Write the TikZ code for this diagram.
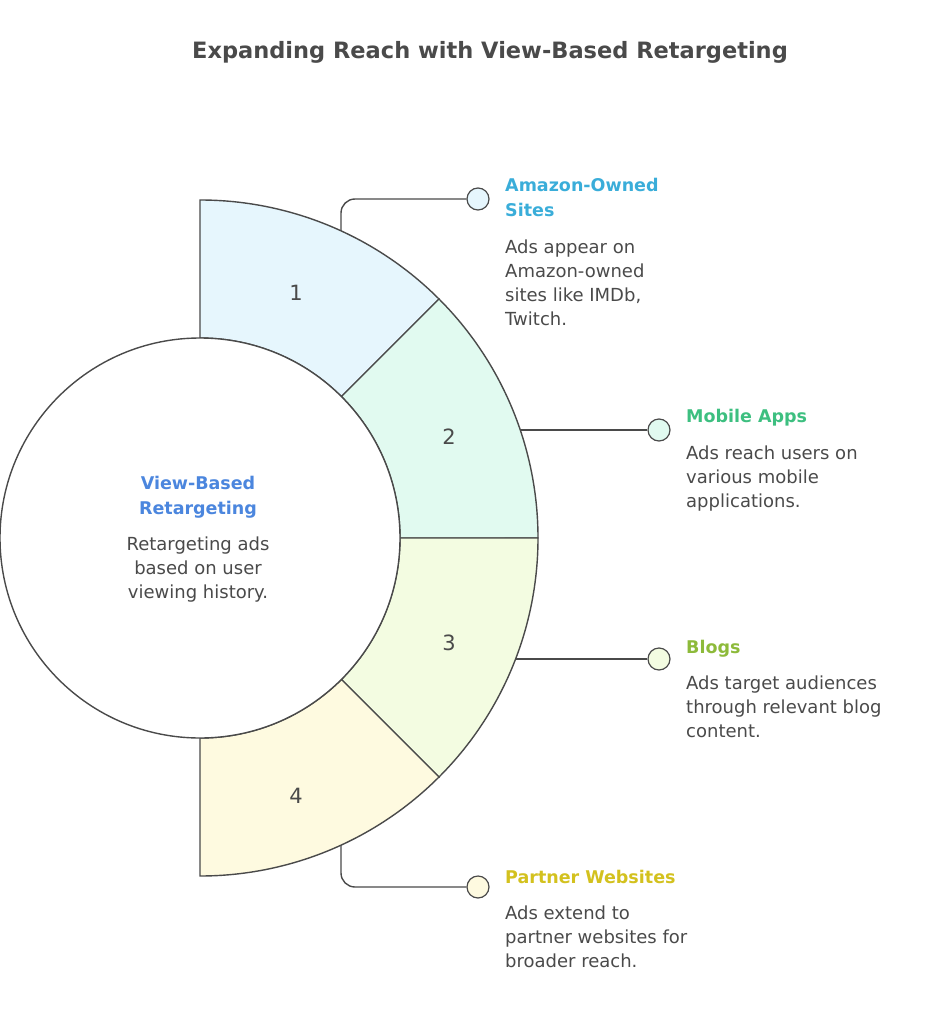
\documentclass[tikz,border=0pt]{standalone}
\usepackage{fontspec}
\setmainfont{DejaVu Sans}
\usetikzlibrary{positioning}
\definecolor{edge}{HTML}{4A4A4A}
\definecolor{segA}{HTML}{E6F6FD}
\definecolor{segB}{HTML}{E1FAF0}
\definecolor{segC}{HTML}{F3FCE1}
\definecolor{segD}{HTML}{FEFAE0}
\definecolor{headA}{HTML}{3AADD9}
\definecolor{headB}{HTML}{3DBF80}
\definecolor{headC}{HTML}{8DBA3A}
\definecolor{headD}{HTML}{D3C11E}
\definecolor{headM}{HTML}{4B86DE}
\tikzset{
  seg/.style={draw=edge, line width=1.4pt},
  dot/.style={circle, draw=edge, line width=1.2pt, minimum size=22pt, inner sep=0pt},
  link/.style={draw=edge, line width=1.4pt, rounded corners=14pt},
  head/.style={anchor=north west, inner sep=0pt, align=left, font=\fontsize{17.5}{25}\selectfont\bfseries},
  body/.style={anchor=north west, inner sep=0pt, align=left, text=edge, font=\fontsize{18}{24}\selectfont},
  num/.style={text=edge, font=\fontsize{21}{22}\selectfont}
}
\begin{document}
\begin{tikzpicture}[x=1pt, y=-1pt]
        \useasboundingbox (0,0) rectangle (938,1024);
        \node[text=edge, font=\fontsize{22.5}{24}\selectfont\bfseries] (title) at (490,52) {Expanding Reach with View-Based Retargeting};
        % ring segments
        \draw[seg, fill=segA] (200,200) arc[start angle=-90, end angle=-45, radius=338]
            -- (341.4,396.6) arc[start angle=-45, end angle=-90, radius=200] -- cycle;
        \draw[seg, fill=segB] (439,299) arc[start angle=-45, end angle=0, radius=338]
            -- (400,538) arc[start angle=0, end angle=-45, radius=200] -- cycle;
        \draw[seg, fill=segC] (538,538) arc[start angle=0, end angle=45, radius=338]
            -- (341.4,679.4) arc[start angle=45, end angle=0, radius=200] -- cycle;
        \draw[seg, fill=segD] (439,777) arc[start angle=45, end angle=90, radius=338]
            -- (200,738) arc[start angle=90, end angle=45, radius=200] -- cycle;
        \node[seg, circle, fill=white, minimum size=400pt] (hub) at (200,538) {};
        \node[num] (n1) at (296,293) {1};
        \node[num] (n2) at (449,437) {2};
        \node[num] (n3) at (449,643) {3};
        \node[num] (n4) at (296,796) {4};
        % connectors
        \coordinate (c1) at (341,231);
        \coordinate (c2) at (520,430);
        \coordinate (c3) at (516,659);
        \coordinate (c4) at (341,845);
        \node[dot, fill=segA] (d1) at (478,199) {};
        \node[dot, fill=segB] (d2) at (659,430) {};
        \node[dot, fill=segC] (d3) at (659,659) {};
        \node[dot, fill=segD] (d4) at (478,887) {};
        \draw[link] (c1) |- (d1);
        \draw[link] (c2) -- (d2);
        \draw[link] (c3) -- (d3);
        \draw[link] (c4) |- (d4);
        % labels
        \node[head, text=headA] (h1) at (505,178) {Amazon-Owned\\Sites};
        \node[body] (b1) at (505,240) {Ads appear on\\Amazon-owned\\sites like IMDb,\\Twitch.};
        \node[head, text=headB] (h2) at (686,409) {Mobile Apps};
        \node[body] (b2) at (686,446) {Ads reach users on\\various mobile\\applications.};
        \node[head, text=headC] (h3) at (686,640) {Blogs};
        \node[body] (b3) at (686,676) {Ads target audiences\\through relevant blog\\content.};
        \node[head, text=headD] (h4) at (505,870) {Partner Websites};
        \node[body] (b4) at (505,906) {Ads extend to\\partner websites for\\broader reach.};
        \node[head, anchor=north, align=center, text=headM] (hm) at (198,476) {View-Based\\Retargeting};
        \node[body, anchor=north, align=center] (bm) at (198,537) {Retargeting ads\\based on user\\viewing history.};
\end{tikzpicture}
\end{document}
